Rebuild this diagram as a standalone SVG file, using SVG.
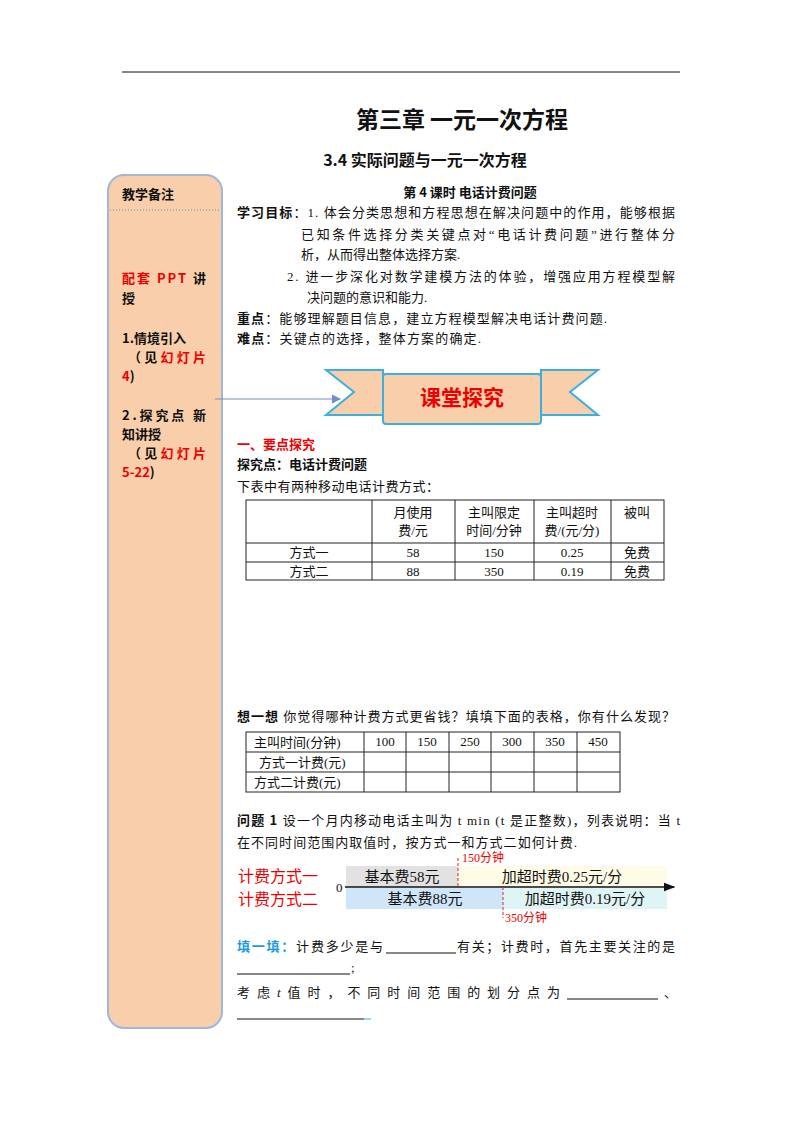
<svg xmlns="http://www.w3.org/2000/svg" width="800" height="1132" viewBox="0 0 800 1132">
<style>
text{font-family:"Liberation Serif","Noto Sans CJK SC",serif;font-size:13px;fill:#111}
.b{font-weight:bold;font-family:"Noto Sans CJK SC",sans-serif}
.r{fill:#e00}
.c{text-anchor:middle}
.tb{fill:none;stroke:#222;stroke-width:1}
</style>
<defs><marker id="ah" markerWidth="8" markerHeight="8" refX="7" refY="4" orient="auto"><path d="M0,0L8,4L0,8z" fill="#6f8fbf"/></marker>
<marker id="ak" markerWidth="8" markerHeight="8" refX="7" refY="4" orient="auto"><path d="M0,1L8,4L0,7z" fill="#111"/></marker></defs>
<rect width="800" height="1132" fill="#fff"/>
<line x1="122" y1="72" x2="680" y2="72" stroke="#111"/>
<text x="462" y="128" class="b c" style="font-size:23px">第三章  一元一次方程</text>
<text x="425" y="166" class="b c" style="font-size:16px">3.4   实际问题与一元一次方程</text>
<g id="sidebar">
<rect x="108" y="175" width="114" height="853" rx="16" fill="#f8cfaa" stroke="#9db8dc" stroke-width="2"/>
<line x1="110" y1="210" x2="220" y2="210" stroke="#6f8fbf" stroke-dasharray="1,2"/>
<text x="122" y="199" class="b">教学备注</text>
<text x="122" y="283" class="b" textLength="84"><tspan class="r">配套 PPT </tspan>讲</text>
<text x="122" y="303" class="b">授</text>
<text x="122" y="343" class="b">1.情境引入</text>
<text x="128" y="362" class="b" textLength="78">（见<tspan class="r">幻灯片</tspan></text>
<text x="122" y="381" class="b"><tspan class="r">4</tspan>)</text>
<text x="122" y="420" class="b" textLength="84">2.探究点  新</text>
<text x="122" y="439" class="b">知讲授</text>
<text x="128" y="458" class="b" textLength="78">（见<tspan class="r">幻灯片</tspan></text>
<text x="122" y="477" class="b"><tspan class="r">5-22</tspan>)</text>
</g>
<g id="connectors"><line x1="215" y1="399" x2="340" y2="399" stroke="#6f8fbf" stroke-width="1.2" marker-end="url(#ah)"/></g>
<g id="banner">
<path d="M326,370H383V415H326L354,392Z" fill="#f8cfaa" stroke="#3ab0e0" stroke-width="2"/>
<path d="M598,370H541V415H598L570,392Z" fill="#f8cfaa" stroke="#3ab0e0" stroke-width="2"/>
<rect x="383" y="374" width="158" height="50" rx="3" fill="#f8cfaa" stroke="#3ab0e0" stroke-width="2"/>
<text x="462" y="405" class="b c r" style="font-size:21px">课堂探究</text>
</g>
<text x="470" y="197" class="b c">第 4 课时    电话计费问题</text>
<text x="237" y="217" textLength="438"><tspan class="b">学习目标</tspan>：1. 体会分类思想和方程思想在解决问题中的作用，能够根据</text>
<text x="301" y="239" textLength="374">已知条件选择分类关键点对“电话计费问题”进行整体分</text>
<text x="301" y="259">析，从而得出整体选择方案.</text>
<text x="287" y="281" textLength="388">2. 进一步深化对数学建模方法的体验，增强应用方程模型解</text>
<text x="307" y="302">决问题的意识和能力.</text>
<text x="237" y="323" textLength="370"><tspan class="b">重点</tspan>：能够理解题目信息，建立方程模型解决电话计费问题.</text>
<text x="237" y="343" textLength="244"><tspan class="b">难点</tspan>：关键点的选择，整体方案的确定.</text>
<text x="237" y="449" class="b r">一、要点探究</text>
<text x="237" y="469" class="b">探究点：电话计费问题</text>
<text x="237" y="491" textLength="202">下表中有两种移动电话计费方式：</text>
<g id="table1">
<rect x="246" y="500" width="418" height="80" class="tb"/>
<path d="M246,543H664M246,562H664M372,500V580M455,500V580M534,500V580M611,500V580" class="tb"/>
<text x="413" y="517" class="c">月使用</text><text x="413" y="535" class="c">费/元</text>
<text x="494" y="517" class="c">主叫限定</text><text x="494" y="535" class="c">时间/分钟</text>
<text x="572" y="517" class="c">主叫超时</text><text x="572" y="535" class="c">费/(元/分)</text>
<text x="637" y="517" class="c">被叫</text>
<text x="309" y="557" class="c">方式一</text><text x="413" y="557" class="c">58</text><text x="494" y="557" class="c">150</text><text x="572" y="557" class="c">0.25</text><text x="637" y="557" class="c">免费</text>
<text x="309" y="576" class="c">方式二</text><text x="413" y="576" class="c">88</text><text x="494" y="576" class="c">350</text><text x="572" y="576" class="c">0.19</text><text x="637" y="576" class="c">免费</text>
</g>
<text x="237" y="721" textLength="438"><tspan class="b">想一想</tspan>  你觉得哪种计费方式更省钱？填填下面的表格，你有什么发现？</text>
<g id="table2">
<rect x="246" y="732" width="374" height="60" class="tb"/>
<path d="M246,752H620M246,772H620M364,732V792M406,732V792M449,732V792M491,732V792M534,732V792M577,732V792" class="tb"/>
<text x="254" y="747">主叫时间(分钟)</text>
<text x="385" y="746" class="c">100</text><text x="427" y="746" class="c">150</text><text x="470" y="746" class="c">250</text><text x="512" y="746" class="c">300</text><text x="555" y="746" class="c">350</text><text x="598" y="746" class="c">450</text>
<text x="259" y="767">方式一计费(元)</text>
<text x="254" y="787">方式二计费(元)</text>
</g>
<text x="237" y="825" textLength="443"><tspan class="b">问题 1</tspan>    设一个月内移动电话主叫为 t min (t 是正整数)，列表说明：当 t</text>
<text x="237" y="847" textLength="340">在不同时间范围内取值时，按方式一和方式二如何计费.</text>
<g id="timeline">
<rect x="346" y="866" width="112" height="21" fill="#e2e2e2"/>
<rect x="458" y="866" width="209" height="21" fill="#fefbe6"/>
<rect x="346" y="888" width="157" height="21" fill="#cfe6f8"/>
<rect x="503" y="888" width="164" height="21" fill="#dff4f4"/>
<line x1="345" y1="887" x2="674" y2="887" stroke="#111" stroke-width="1.5" marker-end="url(#ak)"/>
<path d="M458,858V887M503,887V918" stroke="#d22" stroke-dasharray="3,2"/>
<text x="238" y="882" class="r" style="font-size:16px">计费方式一</text>
<text x="238" y="905" class="r" style="font-size:16px">计费方式二</text>
<text x="336" y="892">0</text>
<text x="402" y="882" class="c" style="font-size:15px">基本费58元</text>
<text x="562" y="882" class="c" style="font-size:15px">加超时费0.25元/分</text>
<text x="425" y="904" class="c" style="font-size:15px">基本费88元</text>
<text x="585" y="904" class="c" style="font-size:15px">加超时费0.19元/分</text>
<text x="462" y="862" class="r" style="font-size:12px">150分钟</text>
<text x="505" y="922" class="r" style="font-size:12px">350分钟</text>
</g>
<text x="237" y="951" textLength="146"><tspan class="b" style="fill:#1a9be0">填一填：</tspan>计费多少是与</text>
<line x1="386" y1="953" x2="456" y2="953" stroke="#111"/>
<text x="457" y="951" textLength="218">有关；计费时，首先主要关注的是</text>
<line x1="237" y1="974" x2="350" y2="974" stroke="#111"/>
<text x="351" y="972">;</text>
<text x="237" y="997" textLength="323">考 虑 <tspan font-style="italic">t</tspan> 值 时 ， 不 同 时 间 范 围 的 划 分 点 为</text>
<line x1="567" y1="999" x2="658" y2="999" stroke="#111"/>
<text x="664" y="997">、</text>
<line x1="237" y1="1019" x2="364" y2="1019" stroke="#111"/>
<line x1="364" y1="1019" x2="371" y2="1019" stroke="#3ab0e0"/>
</svg>
